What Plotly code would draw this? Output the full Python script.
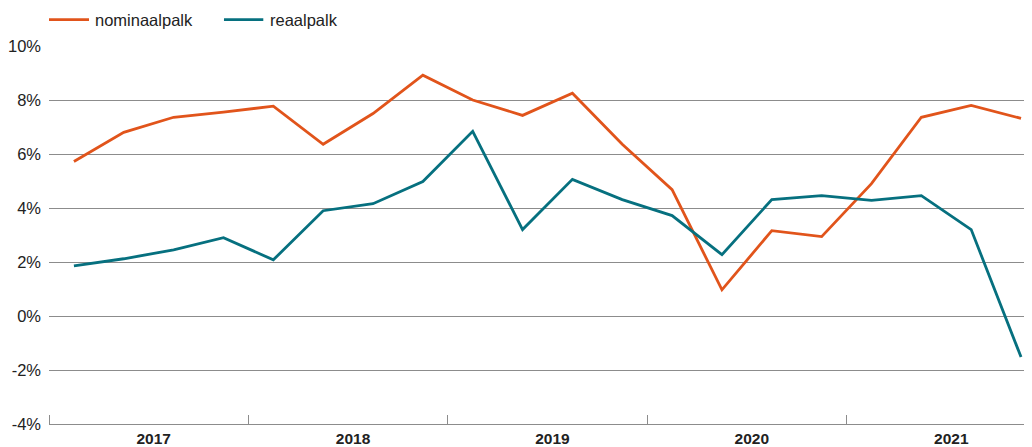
import plotly.graph_objects as go

# Quarterly wage growth, 2017 Q1 - 2021 Q4 (percent)
quarters = ["2017 I", "2017 II", "2017 III", "2017 IV",
            "2018 I", "2018 II", "2018 III", "2018 IV",
            "2019 I", "2019 II", "2019 III", "2019 IV",
            "2020 I", "2020 II", "2020 III", "2020 IV",
            "2021 I", "2021 II", "2021 III", "2021 IV"]
nominaalpalk = [5.72, 6.80, 7.36, 7.55, 7.77, 6.36, 7.50, 8.92,
                8.00, 7.43, 8.25, 6.36, 4.68, 0.97, 3.16, 2.94,
                4.90, 7.36, 7.80, 7.32]
reaalpalk = [1.86, 2.12, 2.45, 2.90, 2.08, 3.90, 4.16, 4.98,
             6.84, 3.20, 5.06, 4.31, 3.72, 2.27, 4.31, 4.46,
             4.28, 4.46, 3.20, -1.52]
series_names = ["nominaalpalk", "reaalpalk"]
years = ["2017", "2018", "2019", "2020", "2021"]
y_ticks = [-4, -2, 0, 2, 4, 6, 8, 10]
y_labels = ["-4%", "-2%", "0%", "2%", "4%", "6%", "8%", "10%"]

ORANGE = "#e1541b"
TEAL = "#06707f"
TEXT = "#222222"
GRID = "#8c8c8c"
FONT = "Liberation Sans, Arial, sans-serif"

x = list(range(len(quarters)))
year_pos = [4 * i + 1.6 for i in range(len(years))]
year_bounds = [4 * i - 0.5 for i in range(len(years))]

fig = go.Figure()

for values, name, color in [(nominaalpalk, series_names[0], ORANGE),
                            (reaalpalk, series_names[1], TEAL)]:
    fig.add_trace(
        go.Scatter(
            x=x,
            y=values,
            name=name,
            mode="lines",
            line=dict(color=color, width=2.8),
            customdata=quarters,
            hovertemplate="%{customdata}: %{y:.1f}%<extra>" + name + "</extra>"
        )
    )

# Legend drawn by hand so the sample lines are as long as in the original
legend_items = [(series_names[0], ORANGE, 0.0, 0.0407, 0.0451),
                (series_names[1], TEAL, 0.178, 0.218, 0.2231)]
legend_y = 1.0696
shapes = []
annotations = []
for name, color, x0, x1, xt in legend_items:
    shapes.append(dict(
        type="line", xref="paper", yref="paper",
        x0=x0, x1=x1, y0=legend_y, y1=legend_y,
        line=dict(color=color, width=2.8),
    ))
    annotations.append(dict(
        xref="paper", yref="paper", x=xt, y=legend_y,
        text=name, showarrow=False, xanchor="left", yanchor="middle",
        font=dict(family=FONT, size=16.5, color=TEXT),
    ))

# The page body adds an 8 px offset, so the figure is 8 px smaller
fig.update_layout(
    width=1024,
    height=439,
    margin=dict(l=41, r=0, t=38, b=23, autoexpand=False),
    paper_bgcolor="white",
    plot_bgcolor="white",
    font=dict(family=FONT, size=15, color=TEXT),
    showlegend=False,
    shapes=shapes,
    annotations=annotations,
)

fig.update_xaxes(
    range=[-0.5, 19.22],
    tickmode="array",
    tickvals=year_pos,
    ticktext=years,
    ticks="",
    ticklabelstandoff=0,
    automargin=False,
    tickfont=dict(family=FONT, size=15.5, color=TEXT, weight="bold"),
    showgrid=False,
    zeroline=False,
    showline=True,
    linecolor=GRID,
    linewidth=1.2,
    minor=dict(
        tickmode="array",
        tickvals=year_bounds,
        ticks="inside",
        ticklen=9,
        tickcolor=GRID,
        tickwidth=1.2,
        showgrid=False,
    ),
)

fig.update_yaxes(
    range=[-4, 10],
    tickmode="array",
    tickvals=y_ticks,
    ticktext=y_labels,
    showgrid=True,
    gridcolor=GRID,
    gridwidth=1,
    zeroline=False,
    showline=False,
    ticks="",
    automargin=False,
    ticklabelstandoff=7,
    tickfont=dict(family=FONT, size=16.5, color=TEXT),
)

fig.write_html("out.html")
